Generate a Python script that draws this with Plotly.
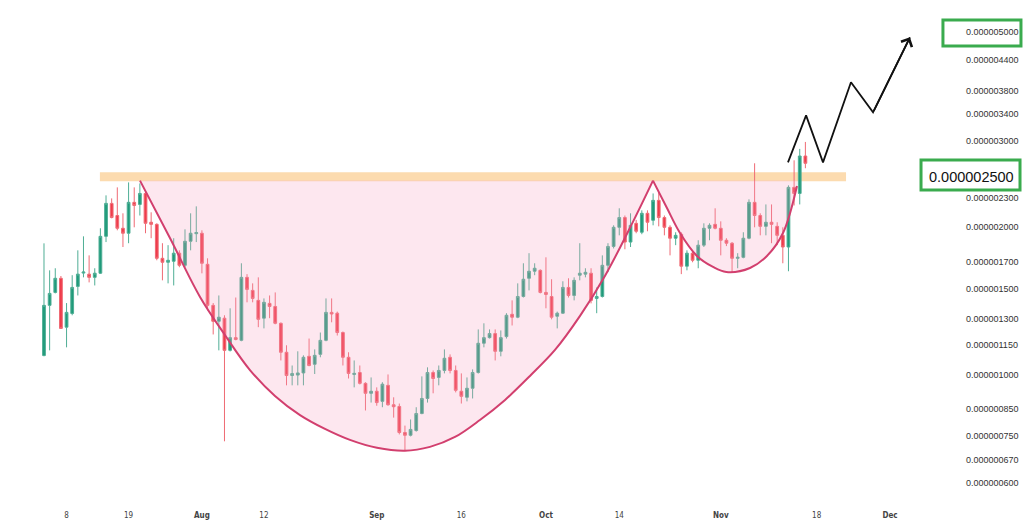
import math
import pandas as pd
import plotly.graph_objects as go

# ---- data (prices in units of 1e-9) ----
start_date = "2024-07-04"
opens = [1094,1385,1472,1573,1250,1333,1514,1612,1604,1580,1611,1916,2237,2113,1990,1944,2248,2226,2344,2047,
         2027,1728,1696,1704,1770,1672,1872,1940,1944,1680,1385,1285,1304,1121,1190,1175,1580,1486,1418,1304,
         1398,1378,1273,1111,996,998,1008,1090,1050,1100,1175,1340,1335,1219,1085,1001,1010,960,916,925,
         882,951,868,861,762,752,769,833,894,1010,987,1020,1085,1020,925,899,938,1010,1159,1190,
         1213,1116,1196,1328,1310,1444,1573,1626,1633,1472,1444,1316,1335,1507,1451,1596,1604,1611,1431,1444,
         1672,1827,1999,2093,1865,2037,1953,2135,2066,2269,2093,1999,1899,1935,1665,1770,1712,1838,1990,2027,
         1990,1881,1855,1728,1736,1899,2248,2113,2008,2047,2008,1925,1822,2412,2344,2795]
highs = [1854,1633,1649,1590,1400,1596,1794,1916,1752,1649,1990,2323,2290,2412,2135,2469,2412,2457,2378,2145,
         2037,1855,1838,1899,1794,1980,2135,2206,1971,1728,1400,1451,1322,1366,1437,1688,1604,1536,1580,1431,
         1451,1472,1278,1148,1044,1116,1095,1185,1126,1219,1431,1431,1345,1225,1111,1069,1044,965,987,942,
         965,1001,899,873,787,810,858,992,1035,1020,1044,1126,1100,1044,1006,987,1025,1237,1273,1237,
         1237,1231,1335,1418,1536,1688,1770,1688,1640,1736,1566,1345,1551,1573,1580,1855,1649,1649,1507,1752,
         1855,2018,2186,2113,2135,2070,2165,2165,2344,2356,2113,2018,1953,1953,1794,1786,1881,2037,2037,2186,
         2056,1899,1865,1770,1953,2280,2701,2135,2226,2226,2047,1999,2435,2739,2890,2986]
lows = [1090,1121,1465,1240,1137,1322,1451,1580,1543,1521,1605,1865,2085,1971,1822,1855,1999,2113,1944,1899,
        1712,1558,1536,1521,1657,1657,1794,1865,1610,1353,1208,1121,731,1115,1175,1170,1405,1405,1250,1243,
        1304,1267,1069,951,951,951,951,1040,1003,1085,1170,1279,1202,1044,982,942,955,845,877,864,
        858,864,817,755,700,748,765,830,877,916,951,1006,1006,920,873,882,894,1005,1137,1185,
        1069,1090,1185,1260,1304,1437,1486,1596,1465,1366,1297,1243,1330,1437,1418,1558,1580,1398,1335,1437,
        1619,1810,1925,1803,1822,1944,1935,1962,2018,2008,1925,1752,1838,1604,1633,1696,1649,1822,1881,1980,
        1752,1830,1619,1649,1728,1890,1999,1925,1925,1855,1838,1688,1626,2215,2226,2639]
closes = [1385,1465,1573,1243,1340,1507,1604,1620,1580,1611,1916,2237,2093,1990,1944,2248,2215,2344,2037,2027,
          1728,1696,1712,1770,1672,1872,1944,1950,1688,1385,1285,1310,1121,1190,1180,1580,1493,1431,1297,1405,
          1378,1273,1111,996,1005,1008,1085,1044,1095,1175,1340,1330,1219,1085,1006,1006,960,916,925,877,
          956,868,860,762,752,773,833,894,1010,982,1020,1080,1020,929,903,938,1010,1159,1190,1213,
          1116,1190,1322,1310,1444,1566,1626,1649,1472,1458,1310,1335,1507,1451,1558,1611,1618,1418,1444,1672,
          1827,1999,2093,1865,2018,1962,2135,2047,2269,2093,1999,1899,1925,1665,1770,1712,1838,1990,2018,1990,
          1881,1855,1728,1736,1899,2248,2113,2008,2047,2027,1925,1822,2412,2344,2795,2701]

# y-axis tick labels (units of 1e-9)
ytick_vals = [5000, 4400, 3800, 3400, 3000, 2300, 2000, 1700, 1500, 1300, 1150, 1000, 850, 750, 670, 600]
key_level = 2500
target_level = 5000

# x-axis tick labels
xtick_dates = ["2024-07-08", "2024-07-19", "2024-08-01", "2024-08-12", "2024-09-01", "2024-09-16",
               "2024-10-01", "2024-10-14", "2024-11-01", "2024-11-18", "2024-12-01"]
xtick_text = ["8", "19", "<b>Aug</b>", "12", "<b>Sep</b>", "16", "<b>Oct</b>", "14", "<b>Nov</b>", "18", "<b>Dec</b>"]

# cup & handle drawing (values in 1e-9)
cup_x = ["2024-07-21 00:30", "2024-07-26 08:00", "2024-07-31 16:00", "2024-08-05 02:00", "2024-08-09 12:30",
         "2024-08-13 23:00", "2024-08-18 09:30", "2024-08-22 19:40", "2024-08-27 06:00", "2024-09-01 01:00",
         "2024-09-06 00:00", "2024-09-10 10:30", "2024-09-14 21:00", "2024-09-19 07:00", "2024-09-23 18:00",
         "2024-09-28 04:00", "2024-10-02 14:30", "2024-10-07 01:00", "2024-10-11 11:00", "2024-10-15 17:00",
         "2024-10-19 23:30"]
cup_y = [2490, 1901, 1441, 1205, 1022, 905, 827, 775, 736, 709, 699, 712, 746, 808, 888, 994, 1123, 1318,
         1590, 1974, 2490]
handle_x = ["2024-10-19 23:30", "2024-10-22 11:00", "2024-10-24 18:30", "2024-10-27 18:45", "2024-10-30 15:00",
            "2024-11-01 23:45", "2024-11-06 04:20", "2024-11-09 04:30", "2024-11-12 00:45", "2024-11-14 12:15"]
handle_y = [2490, 2189, 1946, 1747, 1659, 1620, 1651, 1747, 1946, 2428]
level_top = 2490

# projected path (values in 1e-9)
path_x = ["2024-11-12 22:00", "2024-11-16 03:00", "2024-11-19 03:00", "2024-11-24 02:00", "2024-11-28 00:00"]
path_y = [2713, 3384, 2713, 3953, 3432]
arrow_tip_x = "2024-12-04 13:00"
arrow_tip_y = 4884

# resistance band
band_x = ["2024-07-13 22:00", "2024-11-23 05:00"]
band_y = [2482, 2589]

S = 1e-9
dates = pd.date_range(start=start_date, periods=len(opens), freq="D")
CURVE = "#d23f6e"
PINK = "rgba(246,160,190,0.25)"

fig = go.Figure()

# cup fill + line
fig.add_trace(go.Scatter(x=cup_x, y=[v * S for v in cup_y], mode="lines",
                         line=dict(color=CURVE, width=2, shape="spline"),
                         fill="toself", fillcolor=PINK, hoverinfo="skip", showlegend=False))
# handle fill (closed up to the level) and line
fig.add_trace(go.Scatter(x=handle_x + [handle_x[-1]], y=[v * S for v in handle_y + [level_top]], mode="lines",
                         line=dict(color="rgba(0,0,0,0)", width=0, shape="spline"),
                         fill="toself", fillcolor=PINK, hoverinfo="skip", showlegend=False))
fig.add_trace(go.Scatter(x=handle_x, y=[v * S for v in handle_y], mode="lines",
                         line=dict(color=CURVE, width=2, shape="spline"),
                         hoverinfo="skip", showlegend=False))

fig.add_trace(go.Candlestick(
    x=dates, open=[v * S for v in opens], high=[v * S for v in highs],
    low=[v * S for v in lows], close=[v * S for v in closes],
    increasing=dict(line=dict(color="#4fae95", width=1), fillcolor="#1f9a7a"),
    decreasing=dict(line=dict(color="#ef6a74", width=1), fillcolor="#ef3b4b"),
    whiskerwidth=0, showlegend=False))

fig.add_trace(go.Scatter(x=path_x + [arrow_tip_x], y=[v * S for v in path_y + [arrow_tip_y]], mode="lines",
                         line=dict(color="#111111", width=1.8), hoverinfo="skip", showlegend=False))

fig.add_annotation(x=arrow_tip_x, y=math.log10(arrow_tip_y * S), ax=path_x[-1], ay=math.log10(path_y[-1] * S),
                   xref="x", yref="y", axref="x", ayref="y", text="", showarrow=True,
                   arrowhead=4, arrowsize=1.3, arrowwidth=1.8, arrowcolor="#111111")

# resistance band
fig.add_shape(type="rect", xref="x", yref="y", x0=band_x[0], x1=band_x[1],
              y0=band_y[0] * S, y1=band_y[1] * S, line=dict(width=0),
              fillcolor="rgba(250,190,110,0.55)", layer="below")

# highlighted price labels
fig.add_annotation(x=1.0561, y=math.log10(key_level * S), xref="paper", yref="y", xanchor="right",
                   yanchor="middle", yshift=3, text="0.000002500", showarrow=False,
                   font=dict(family="Liberation Sans, Arial", size=14.5, color="#111111"))
fig.add_shape(type="rect", xref="paper", yref="y", x0=0.9574, x1=1.0603, y0=2382 * S, y1=2744 * S,
              line=dict(color="#3aab4e", width=3), fillcolor="rgba(0,0,0,0)")
fig.add_shape(type="rect", xref="paper", yref="y", x0=0.9802, x1=1.0613, y0=4688 * S, y1=5298 * S,
              line=dict(color="#3aab4e", width=3), fillcolor="rgba(0,0,0,0)")

fig.update_layout(
    width=1024, height=527,
    margin=dict(l=0, r=62, t=0, b=18),
    paper_bgcolor="white", plot_bgcolor="white",
    showlegend=False, boxgap=0.3,
    xaxis=dict(range=["2024-06-26 04:48", "2024-12-13 18:30"], showgrid=False, zeroline=False,
               showline=False, ticks="", tickmode="array", tickvals=xtick_dates, ticktext=xtick_text,
               tickfont=dict(family="DejaVu Sans Condensed, DejaVu Sans", size=8, color="#444444"),
               rangeslider=dict(visible=False), fixedrange=True),
    yaxis=dict(type="log", side="right", range=[-6.2743, -5.2351], showgrid=False, zeroline=False,
               showline=False, ticks="", tickmode="array", tickvals=[v * S for v in ytick_vals],
               ticktext=[f"{v * S:.9f}" for v in ytick_vals], ticklabelstandoff=3,
               tickfont=dict(family="Liberation Sans, Arial", size=9, color="#333333"), fixedrange=True),
)

fig.write_html("out.html")
